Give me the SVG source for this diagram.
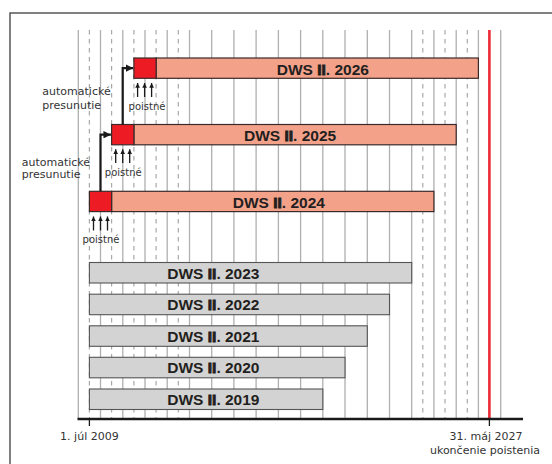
<svg xmlns="http://www.w3.org/2000/svg" width="552" height="464" viewBox="0 0 552 464">
<defs>
<style>
.g{stroke:#b0b0b0;stroke-width:1.3;fill:none}
.d{stroke:#a8a8a8;stroke-width:1.2;stroke-dasharray:4.5 4.5;fill:none}
.red{fill:#ed1c24;stroke:#3a2a2a;stroke-width:1.2}
.sal{fill:#f4a18a;stroke:#3a2a2a;stroke-width:1.2}
.gry{fill:#d3d3d3;stroke:#555;stroke-width:1.1}
.lbl{font-family:"Liberation Sans",Arial,sans-serif;font-weight:bold;font-size:15.5px;fill:#231f20}
.ii{stroke:#231f20;stroke-width:0.9}
.sm{font-family:"DejaVu Sans",sans-serif;font-size:11px;fill:#333}
.ps{font-family:"DejaVu Sans",sans-serif;font-size:10px;fill:#333;text-anchor:middle}
.con{stroke:#1a1a1a;stroke-width:2.2;fill:none}
.up{stroke:#1a1a1a;stroke-width:1.3;fill:none}
</style>
<marker id="ah" viewBox="0 0 10 10" refX="10" refY="5" markerWidth="3.4" markerHeight="3.4" orient="auto" markerUnits="strokeWidth">
<path d="M0,0 L10,5 L0,10 z" fill="#1a1a1a"/>
</marker>
<marker id="sa" viewBox="0 0 10 10" refX="10" refY="5" markerWidth="4" markerHeight="3.6" orient="auto" markerUnits="strokeWidth">
<path d="M0,0 L10,5 L0,10 z" fill="#1a1a1a"/>
</marker>
</defs>
<rect x="10" y="13" width="560" height="470" fill="#fff" stroke="#4a4a4a" stroke-width="1.4"/>
<g id="grid">
<path class="g" d="M78.3,30V419M100.5,30V419M122.8,30V419M145,30V419M167.2,30V419M189.5,30V419M211.7,30V419M233.9,30V419M256.1,30V419M278.4,30V419M300.6,30V419M322.8,30V419M345,30V419M367.3,30V419M389.5,30V419M411.7,30V419M433.9,30V419M456.2,30V419M478.4,30V419M500.7,30V419"/>
<path class="d" d="M89.4,30V419M111.6,30V419M133.9,30V419M156.1,30V419M178.3,30V419M422.8,30V419M445,30V419M467.3,30V419"/>
<line x1="489.4" y1="30" x2="489.4" y2="419" stroke="#ee2a36" stroke-width="2.6"/>
</g>
<g id="axis">
<line x1="77.5" y1="419" x2="523" y2="419" stroke="#1a1a1a" stroke-width="2.6"/>
<line x1="89.4" y1="419" x2="89.4" y2="426" stroke="#1a1a1a" stroke-width="1.3"/>
<line x1="489.4" y1="419" x2="489.4" y2="426" stroke="#1a1a1a" stroke-width="1.3"/>
<text class="sm" x="89.4" y="439.5" text-anchor="middle">1. júl 2009</text>
<text class="sm" x="486" y="439.5" text-anchor="middle">31. máj 2027</text>
<text class="sm" x="485" y="453.5" text-anchor="middle">ukončenie poistenia</text>
</g>
<g id="bar2026">
<rect class="sal" x="156.1" y="58" width="322.3" height="20.3"/>
<rect class="red" x="133.9" y="58" width="22.2" height="20.3"/>
<text class="lbl" x="276.7" y="74.8">DWS <tspan class="ii">II</tspan>. 2026</text>
</g>
<g id="bar2025">
<rect class="sal" x="133.9" y="124.5" width="322.3" height="20.3"/>
<rect class="red" x="111.6" y="124.5" width="22.3" height="20.3"/>
<text class="lbl" x="244" y="141.3">DWS <tspan class="ii">II</tspan>. 2025</text>
</g>
<g id="bar2024">
<rect class="sal" x="111.6" y="191.3" width="322.3" height="20.3"/>
<rect class="red" x="89.4" y="191.3" width="22.2" height="20.3"/>
<text class="lbl" x="232.7" y="208">DWS <tspan class="ii">II</tspan>. 2024</text>
</g>
<g id="bar2023">
<rect class="gry" x="89.4" y="262.5" width="322.3" height="20.5"/>
<text class="lbl" x="167.3" y="278.6">DWS <tspan class="ii">II</tspan>. 2023</text>
</g>
<g id="bar2022">
<rect class="gry" x="89.4" y="294.2" width="300.1" height="20.5"/>
<text class="lbl" x="167.3" y="310.3">DWS <tspan class="ii">II</tspan>. 2022</text>
</g>
<g id="bar2021">
<rect class="gry" x="89.4" y="325.8" width="277.9" height="20.5"/>
<text class="lbl" x="167.3" y="341.9">DWS <tspan class="ii">II</tspan>. 2021</text>
</g>
<g id="bar2020">
<rect class="gry" x="89.4" y="357.3" width="255.6" height="20.5"/>
<text class="lbl" x="167.3" y="373.4">DWS <tspan class="ii">II</tspan>. 2020</text>
</g>
<g id="bar2019">
<rect class="gry" x="89.4" y="389" width="233.4" height="20.5"/>
<text class="lbl" x="167.3" y="405.1">DWS <tspan class="ii">II</tspan>. 2019</text>
</g>
<g id="label-auto1">
<text class="sm" x="42.3" y="95">automatické</text>
<text class="sm" x="42.3" y="108.7">presunutie</text>
</g>
<g id="label-auto2">
<text class="sm" x="21.7" y="165.5">automatické</text>
<text class="sm" x="21.7" y="178.3">presunutie</text>
</g>
<g id="poistne1">
<path class="up" marker-end="url(#sa)" d="M137.6,97V83"/>
<path class="up" marker-end="url(#sa)" d="M144.6,97V83"/>
<path class="up" marker-end="url(#sa)" d="M151.6,97V83"/>
<text class="ps" x="147" y="109.8">poistné</text>
</g>
<g id="poistne2">
<path class="up" marker-end="url(#sa)" d="M115.7,163V149.3"/>
<path class="up" marker-end="url(#sa)" d="M122.7,163V149.3"/>
<path class="up" marker-end="url(#sa)" d="M129.7,163V149.3"/>
<text class="ps" x="123.3" y="175.5">poistné</text>
</g>
<g id="poistne3">
<path class="up" marker-end="url(#sa)" d="M93.5,230.5V216.5"/>
<path class="up" marker-end="url(#sa)" d="M100.5,230.5V216.5"/>
<path class="up" marker-end="url(#sa)" d="M107.5,230.5V216.5"/>
<text class="ps" x="101" y="242.5">poistné</text>
</g>
<g id="connectors">
<path class="con" marker-end="url(#ah)" d="M122.7,124.5V68.2H133.2"/>
<path class="con" marker-end="url(#ah)" d="M100.5,191.3V134.7H110.9"/>
</g>
</svg>
